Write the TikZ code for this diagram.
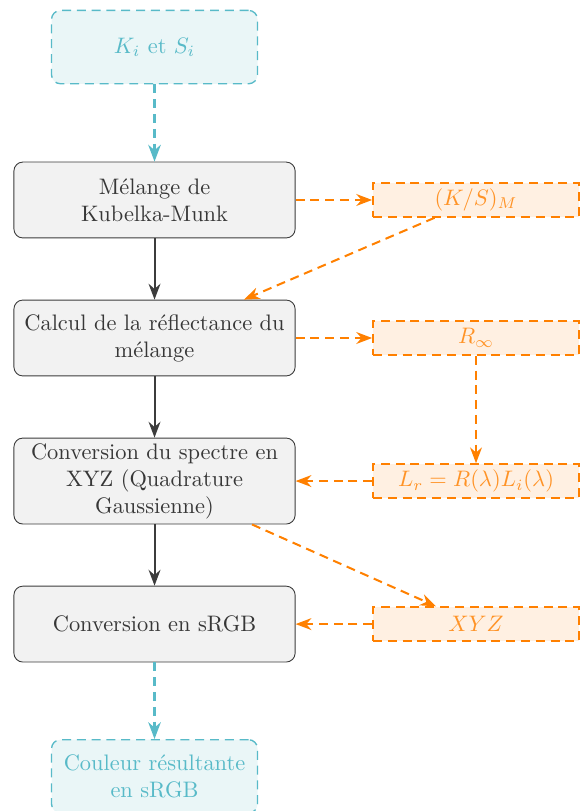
\documentclass[tikz,border=0pt]{standalone}
\usepackage{xcolor}
\usetikzlibrary{shapes,arrows.meta,positioning}

\definecolor{boxline}{RGB}{60,60,60}
\definecolor{boxfill}{RGB}{242,242,242}
\definecolor{boxtext}{RGB}{55,55,55}
\definecolor{ioline}{RGB}{88,186,200}
\definecolor{iofill}{RGB}{234,246,247}
\definecolor{dataline}{RGB}{255,128,0}
\definecolor{datafill}{RGB}{255,240,226}

\begin{document}
\begin{tikzpicture}[
  node distance=0.96cm and 1.2cm,
  longdash/.style={dash pattern=on 4pt off 2.6pt},
  box/.style={draw=boxline, fill=boxfill, text=boxtext, rounded corners, minimum width=4.41cm, minimum height=1.19cm, inner ysep=2.4pt, align=center},
  io/.style={draw=ioline, fill=iofill, text=ioline, longdash, semithick, rounded corners, minimum width=3.23cm, minimum height=1.15cm, align=center},
  data/.style={draw=dataline, fill=datafill, text=dataline!85, longdash, thick, minimum width=3.23cm, minimum height=0.53cm, inner sep=2pt},
  arr/.style={-{Stealth}, line width=0.9pt, boxline},
  ioarr/.style={-{Stealth}, line width=1pt, longdash, ioline},
  dataarr/.style={-{Stealth}, line width=0.9pt, longdash, dataline}
]
  \useasboundingbox (0,0) rectangle (9.094,-12.717);

  % main chain
  \node[box] (melange) at (2.423,-3.136) {Mélange de\\Kubelka-Munk};
  \node[io, above=1.21cm of melange] (ksi) {$K_i$ et $S_i$};
  \node[box, below=of melange] (reflect) {Calcul de la réflectance du\\mélange};
  \node[box, below=of reflect] (spectre) {Conversion du spectre en\\XYZ (Quadrature\\Gaussienne)};
  \node[box, below=of spectre] (srgb) {Conversion en sRGB};
  \node[io, below=1.2cm of srgb] (result) {Couleur résultante\\en sRGB};

  % intermediate data
  \node[data, right=of melange] (ksm) {$(K/S)_M$};
  \node[data, right=of reflect] (rinf) {$R_\infty$};
  \node[data, right=of spectre] (lr) {$L_r = R(\lambda) L_i(\lambda)$};
  \node[data, right=of srgb] (xyz) {$XYZ$};

  \draw[ioarr] (ksi) -- (melange);
  \draw[arr] (melange) -- (reflect);
  \draw[arr] (reflect) -- (spectre);
  \draw[arr] (spectre) -- (srgb);
  \draw[ioarr] (srgb) -- (result);

  \draw[dataarr] (melange) -- (ksm);
  \draw[dataarr] (ksm) -- (reflect);
  \draw[dataarr] (reflect) -- (rinf);
  \draw[dataarr] (rinf) -- (lr);
  \draw[dataarr] (lr) -- (spectre);
  \draw[dataarr] (spectre) -- (xyz);
  \draw[dataarr] (xyz) -- (srgb);
\end{tikzpicture}
\end{document}
